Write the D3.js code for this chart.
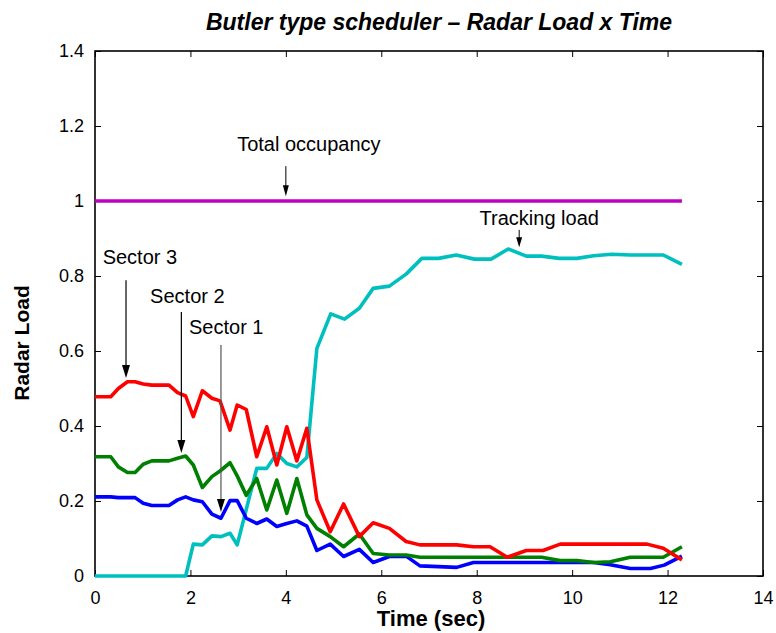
<!DOCTYPE html>
<html>
<head>
<meta charset="utf-8">
<script src="https://cdn.jsdelivr.net/npm/d3@7/dist/d3.min.js"></script>
<style>
  html, body { margin: 0; padding: 0; background: #ffffff; }
  svg { display: block; }
  text { font-family: "Liberation Sans", Arial, Helvetica, sans-serif; fill: #000; }
</style>
</head>
<body>
<svg id="chart" width="776" height="633"></svg>
<script>
// ---------------- data ----------------
const titleText = "Butler type scheduler \u2013 Radar Load x Time";
const xLabel = "Time (sec)";
const yLabel = "Radar Load";
const xTicks = [0, 2, 4, 6, 8, 10, 12, 14];
const yTicks = [0, 0.2, 0.4, 0.6, 0.8, 1, 1.2, 1.4];

// Sector 3 (red)
const sector3T = [0, 0.33, 0.49, 0.68, 0.84, 1.01, 1.19, 1.55, 1.73, 1.90, 2.06, 2.25, 2.45, 2.62, 2.83, 2.98, 3.17, 3.39, 3.60, 3.81, 4.02, 4.23, 4.44, 4.65, 4.93, 5.21, 5.54, 5.83, 6.17, 6.52, 6.81, 7.58, 7.93, 8.28, 8.64, 9.04, 9.39, 9.75, 11.57, 11.91, 12.30];
const sector3V = [0.478, 0.478, 0.500, 0.518, 0.518, 0.512, 0.509, 0.509, 0.489, 0.480, 0.425, 0.494, 0.474, 0.467, 0.389, 0.456, 0.444, 0.318, 0.398, 0.296, 0.398, 0.307, 0.394, 0.203, 0.118, 0.192, 0.105, 0.142, 0.127, 0.092, 0.083, 0.083, 0.078, 0.078, 0.050, 0.068, 0.068, 0.085, 0.085, 0.074, 0.043];

// Sector 2 (green)
const sector2T = [0, 0.33, 0.49, 0.68, 0.84, 1.01, 1.19, 1.55, 1.73, 1.90, 2.06, 2.25, 2.45, 2.62, 2.83, 2.98, 3.17, 3.39, 3.60, 3.81, 4.02, 4.23, 4.44, 4.65, 4.93, 5.21, 5.54, 5.83, 6.17, 6.52, 6.81, 9.36, 9.75, 10.10, 10.45, 10.80, 11.22, 11.91, 12.30];
const sector2V = [0.318, 0.318, 0.291, 0.276, 0.276, 0.298, 0.307, 0.307, 0.314, 0.320, 0.296, 0.236, 0.265, 0.280, 0.302, 0.267, 0.215, 0.260, 0.176, 0.256, 0.167, 0.260, 0.163, 0.127, 0.105, 0.078, 0.112, 0.060, 0.056, 0.056, 0.050, 0.050, 0.041, 0.041, 0.036, 0.038, 0.050, 0.050, 0.078];

// Sector 1 (blue)
const sector1T = [0, 0.33, 0.49, 0.84, 1.01, 1.19, 1.55, 1.73, 1.90, 2.06, 2.25, 2.45, 2.64, 2.83, 2.98, 3.17, 3.39, 3.60, 3.81, 4.02, 4.23, 4.44, 4.65, 4.93, 5.21, 5.54, 5.83, 6.17, 6.52, 6.81, 7.58, 7.93, 10.45, 10.80, 11.22, 11.64, 11.93, 12.30];
const sector1V = [0.211, 0.211, 0.209, 0.209, 0.194, 0.188, 0.188, 0.203, 0.211, 0.203, 0.198, 0.165, 0.154, 0.201, 0.201, 0.154, 0.140, 0.152, 0.132, 0.140, 0.147, 0.133, 0.068, 0.085, 0.052, 0.071, 0.036, 0.052, 0.053, 0.027, 0.023, 0.036, 0.036, 0.030, 0.020, 0.020, 0.029, 0.053];

// Tracking load (cyan)
const trackingT = [0, 1.90, 2.06, 2.25, 2.45, 2.64, 2.83, 2.98, 3.39, 3.60, 3.81, 4.02, 4.23, 4.44, 4.65, 4.94, 5.23, 5.54, 5.83, 6.17, 6.52, 6.85, 7.20, 7.57, 7.95, 8.30, 8.66, 9.04, 9.36, 9.73, 10.10, 10.45, 10.83, 11.22, 11.91, 12.30];
const trackingV = [0, 0, 0.085, 0.083, 0.107, 0.105, 0.114, 0.083, 0.287, 0.287, 0.327, 0.300, 0.291, 0.316, 0.607, 0.699, 0.685, 0.714, 0.767, 0.773, 0.805, 0.847, 0.847, 0.856, 0.845, 0.845, 0.872, 0.853, 0.853, 0.847, 0.847, 0.854, 0.858, 0.856, 0.856, 0.831];

// Total occupancy (magenta)
const totalT = [0, 12.30];
const totalV = [1, 1];

// ---------------- layout ----------------
const W = 776, H = 633;
const margin = { left: 95, right: 13, top: 51, bottom: 57 };
const svg = d3.select("#chart");
const x = d3.scaleLinear().domain([0, 14]).range([margin.left, W - margin.right]);
const y = d3.scaleLinear().domain([0, 1.4]).range([H - margin.bottom, margin.top]);

const fmt = d => (d === 0 ? "0" : d === 1 ? "1" : d3.format("")(+d.toFixed(1)));

// axes (inward ticks on all four sides)
const gx = svg.append("g").attr("transform", `translate(0,${y(0)})`)
  .call(d3.axisBottom(x).tickValues(xTicks).tickFormat(d3.format("d")).tickSizeInner(-6).tickSizeOuter(0).tickPadding(15));
const gxt = svg.append("g").attr("transform", `translate(0,${y(1.4)})`)
  .call(d3.axisTop(x).tickValues(xTicks).tickFormat("").tickSizeInner(-6).tickSizeOuter(0));
const gy = svg.append("g").attr("transform", `translate(${x(0)},0)`)
  .call(d3.axisLeft(y).tickValues(yTicks).tickFormat(fmt).tickSizeInner(-6).tickSizeOuter(0).tickPadding(11));
const gyr = svg.append("g").attr("transform", `translate(${x(14)},0)`)
  .call(d3.axisRight(y).tickValues(yTicks).tickFormat("").tickSizeInner(-6).tickSizeOuter(0));
[gx, gxt, gy, gyr].forEach(g => {
  g.select(".domain").remove();
  g.selectAll(".tick line").attr("stroke", "#000").attr("stroke-width", 1);
  g.selectAll("text").style("font-size", "18px").style("font-family", '"Liberation Sans", Arial, sans-serif');
});

// frame
svg.append("rect")
  .attr("x", x(0)).attr("y", y(1.4))
  .attr("width", x(14) - x(0)).attr("height", y(0) - y(1.4))
  .attr("fill", "none").attr("stroke", "#000").attr("stroke-width", 1.6);

// lines
const line = d3.line().x(d => x(d[0])).y(d => y(d[1]));
const series = [
  { t: totalT, v: totalV, color: "#bf00bf" },
  { t: trackingT, v: trackingV, color: "#00bfbf" },
  { t: sector1T, v: sector1V, color: "#0000ff" },
  { t: sector2T, v: sector2V, color: "#008000" },
  { t: sector3T, v: sector3V, color: "#ff0000" }
];
series.forEach(s => {
  svg.append("path")
    .datum(s.t.map((t, i) => [t, s.v[i]]))
    .attr("d", line)
    .attr("fill", "none")
    .attr("stroke", s.color)
    .attr("stroke-width", 3.6)
    .attr("stroke-linejoin", "round");
});

// annotations
function arrow(t, vTop, vTip, headW, headH, color, width) {
  const xp = x(t), y0 = y(vTop), y1 = y(vTip);
  svg.append("line").attr("x1", xp).attr("x2", xp).attr("y1", y0).attr("y2", y1 - headH + 1)
    .attr("stroke", color).attr("stroke-width", width);
  svg.append("path")
    .attr("d", `M${xp - headW / 2},${y1 - headH} L${xp + headW / 2},${y1 - headH} L${xp},${y1} Z`)
    .attr("fill", "#000");
}
function label(t, v, txt) {
  svg.append("text").attr("x", x(t)).attr("y", y(v)).text(txt)
    .style("font-size", "20px");
}
label(2.98, 1.133, "Total occupancy");
arrow(4.0, 1.093, 1.013, 6, 11, "#000", 1);
label(8.06, 0.936, "Tracking load");
arrow(8.89, 0.923, 0.877, 6, 10, "#000", 1);
label(0.16, 0.831, "Sector 3");
arrow(0.65, 0.789, 0.528, 8, 13, "#000", 1.2);
label(1.155, 0.728, "Sector 2");
arrow(1.81, 0.704, 0.328, 8, 13, "#000", 1.2);
label(1.97, 0.645, "Sector 1");
arrow(2.64, 0.616, 0.171, 8, 13, "#555", 1.2);

// titles
svg.append("text").attr("x", 439).attr("y", 30).attr("text-anchor", "middle")
  .style("font-size", "23px").style("font-weight", "bold").style("font-style", "italic")
  .text(titleText);
svg.append("text").attr("x", 431).attr("y", 626).attr("text-anchor", "middle")
  .style("font-size", "22px").style("font-weight", "bold")
  .text(xLabel);
svg.append("text").attr("transform", `translate(29,343) rotate(-90)`).attr("text-anchor", "middle")
  .style("font-size", "21px").style("font-weight", "bold")
  .text(yLabel);
</script>
</body>
</html>
